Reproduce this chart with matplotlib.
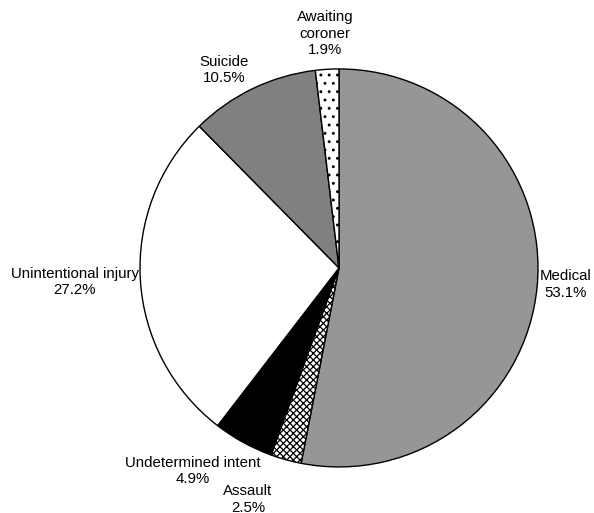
import numpy as np
import matplotlib
matplotlib.use("Agg")
import matplotlib.pyplot as plt

plt.rcParams['font.family'] = ['Liberation Sans', 'DejaVu Sans']

categories = ["Medical", "Assault", "Undetermined intent", "Unintentional injury", "Suicide", "Awaiting\ncoroner"]
values = [53.1, 2.5, 4.9, 27.2, 10.5, 1.9]
pct_labels = ["53.1%", "2.5%", "4.9%", "27.2%", "10.5%", "1.9%"]

colors = ["#969696", "white", "black", "white", "#808080", "white"]
hatches = [None, "xxxxx", None, None, None, ".."]
label_r = [1.14, 1.25, 1.26, 1.33, 1.15, 1.18]
label_dang = [1.3, -6.0, -7.0, -0.5, 4.5, 0.0]

fig = plt.figure(figsize=(5.94, 5.13), dpi=100)
ax = fig.add_axes([0.2357, 0.0897, 0.670, 0.776])
plt.rcParams['hatch.linewidth'] = 0.9
wedges, _ = ax.pie(values, startangle=90, counterclock=False, colors=colors,
                   wedgeprops=dict(edgecolor='black', linewidth=1.0), normalize=True)
for w, h in zip(wedges, hatches):
    if h:
        w.set_hatch(h)

total = sum(values)
cum = 0
for i, v in enumerate(values):
    mid = 90 - (cum + v / 2) / total * 360 + label_dang[i]
    cum += v
    r = label_r[i]
    x = r * np.cos(np.radians(mid))
    y = r * np.sin(np.radians(mid))
    ax.text(x, y, categories[i] + "\n" + pct_labels[i], ha='center', va='center',
            fontsize=10.8, linespacing=1.2, multialignment='center')

ax.set_xlim(-1, 1)
ax.set_ylim(-1, 1)
ax.set_aspect('equal')
ax.axis('off')
fig.savefig("out.png", dpi=100)
